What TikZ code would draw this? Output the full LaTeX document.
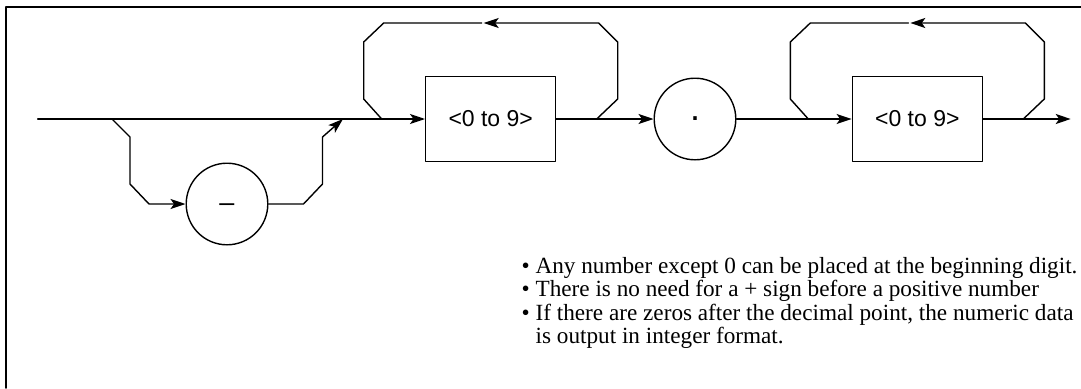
\documentclass[tikz,border=0pt]{standalone}
\usepackage{fontspec}
\setmainfont{Liberation Serif}
\newfontfamily\boxfont{Liberation Sans}
\usetikzlibrary{arrows.meta}

\begin{document}
\begin{tikzpicture}[x=1pt, y=-1pt, line join=round, line cap=round, line width=1.4pt, >={Stealth[length=15pt,width=10pt,inset=3.5pt]}]
	\tikzset{digitbox/.style={draw, minimum width=130pt, minimum height=85pt, inner sep=0pt, font=\boxfont\fontsize{23}{27}\selectfont},
		symcircle/.style={draw, circle, minimum size=81.6pt, inner sep=0pt},
		note/.style={anchor=base west, inner sep=0pt, font=\fontsize{23.2}{27}\selectfont}}
	\useasboundingbox (0,0) rectangle (1081,388);
	% frame
	\draw[line width=1.8pt] (6,388) -- (6,7) -- (1081,7);
	% nodes
	\coordinate (start) at (37.7,119);
	\coordinate (s1) at (112,119);
	\coordinate (j1) at (343,119);
	\coordinate (end) at (1070.7,119);
	\node[symcircle, font=\boxfont\fontsize{27}{27}\selectfont, text height=15pt, text depth=0pt] (minus) at (227,204) {–};
	\node[digitbox] (d1) at (490.7,119) {<0 to 9>};
	\node[symcircle, font=\boxfont\fontsize{36}{36}\selectfont] (point) at (695,119) {.};
	\node[digitbox] (d2) at (917.3,119) {<0 to 9>};
	% main line
	\draw[->] (start) -- (d1);
	\draw[->] (d1) -- (point);
	\draw[->] (point) -- (d2);
	\draw[->] (d2) -- (end);
	% optional minus sign
	\draw[->] (s1) -- ++(18,18) -- ++(0,47) -- ++(19,20) -- (minus);
	\draw[->] (minus.east) -- ++(35,0) -- ++(19,-20) -- ++(0,-47) -- (j1);
	% repeat loops
	\foreach \b in {d1,d2}{
		\draw[->] (\b) ++(106,0) -- ++(21,-20) -- ++(0,-57) -- ++(-19,-19) -- ++(-115,0);
		\draw (\b) ++(-9,-96) -- ++(-98,0) -- ++(-20,19) -- ++(0,57) -- ++(18,20);
	}
	% notes
	\node[note] (n1) at (521,273) {• Any number except 0 can be placed at the beginning digit.};
	\node[note] (n2) at (521,296.6) {• There is no need for a + sign before a positive number};
	\node[note] (n3) at (521,320.2) {• If there are zeros after the decimal point, the numeric data};
	\node[note] (n4) at (521,343.8) {\hphantom{• }is output in integer format.};
\end{tikzpicture}
\end{document}
